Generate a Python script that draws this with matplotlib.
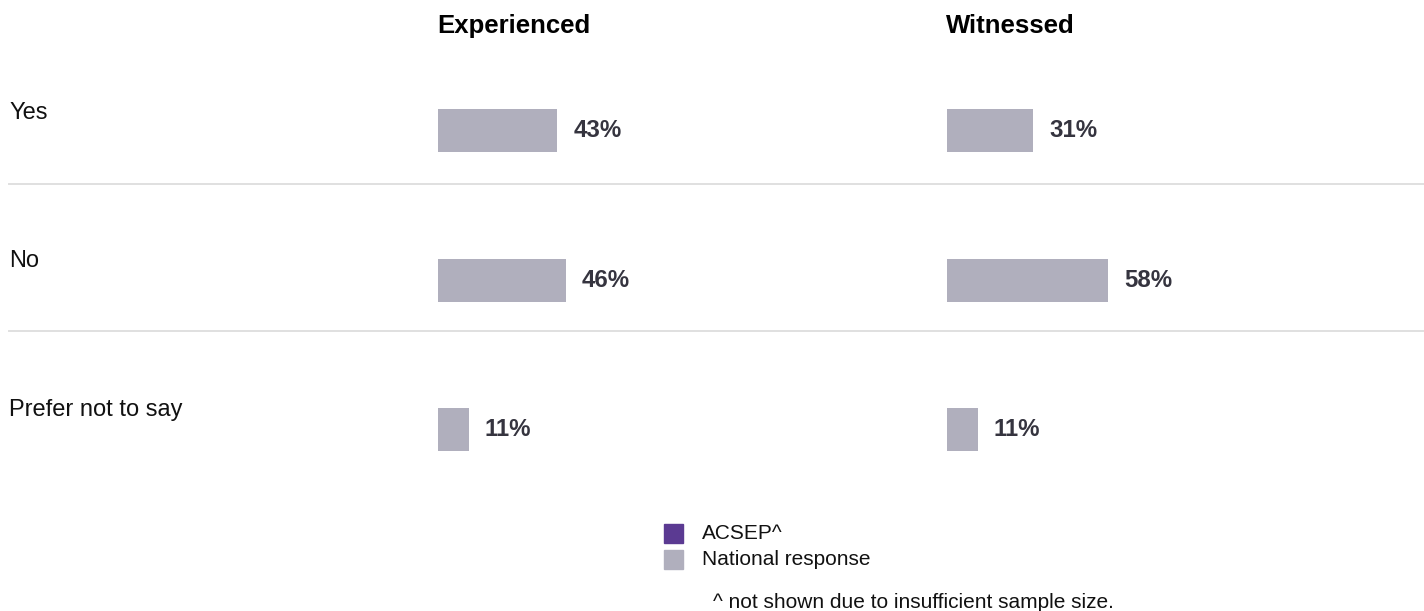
import matplotlib
matplotlib.use("Agg")
import matplotlib.pyplot as plt
from matplotlib.patches import Rectangle
from matplotlib.lines import Line2D

plt.rcParams['font.family'] = ['Liberation Sans', 'DejaVu Sans']

# data
categories = ["Yes", "No", "Prefer not to say"]
columns = ["Experienced", "Witnessed"]
experienced = [43, 46, 11]
witnessed = [31, 58, 11]
legend_labels = ["ACSEP^", "National response"]
footnote = "^ not shown due to insufficient sample size."

W, H = 1424, 611
fig = plt.figure(figsize=(W / 100, H / 100), dpi=100)

grey = "#b0afbd"
purple = "#5b3a92"
label_col = "#35343f"


def fx(px):
    return px / W


def fy(py):
    return 1 - py / H


# separators between rows
for ypx in [184, 331]:
    fig.add_artist(Line2D([fx(9), 1], [fy(ypx), fy(ypx)], color="#e0e0e0", lw=1.4))

# row labels
for lab, ypx in zip(categories, [119, 267, 416]):
    fig.text(fx(9), fy(ypx), lab, fontsize=17, color="#111111", va="baseline", ha="left")

# one axes per column, x in percent
top, bot = 56, 504.5
for left_px, title, vals in [(438, columns[0], experienced), (947, columns[1], witnessed)]:
    ax = fig.add_axes([fx(left_px), fy(bot), 277.6 / W, (bot - top) / H])
    bars = ax.barh(range(len(categories)), vals, height=0.29, color=grey, edgecolor="none")
    ax.bar_label(bars, labels=[f"{v}%" for v in vals], padding=11.5,
                 fontsize=17.3, fontweight="bold", color=label_col)
    ax.set_xlim(0, 100)
    ax.set_ylim(2.5, -0.5)
    ax.axis("off")
    fig.text(fx(left_px - 1), fy(33), title, fontsize=18.5, fontweight="bold",
             color="black", va="baseline", ha="left")

# legend
for i, (lab, c) in enumerate(zip(legend_labels, [purple, grey])):
    y0 = 524 + 26 * i
    fig.add_artist(Rectangle((fx(664), fy(y0 + 19)), 19 / W, 19 / H, color=c,
                             transform=fig.transFigure))
    fig.text(fx(702), fy(y0 + 9.5), lab, fontsize=15, color="#111111", va="center", ha="left")

fig.text(fx(713), fy(602), footnote, fontsize=15, color="#111111", va="center", ha="left")

fig.savefig("out.png", dpi=100, facecolor="white")
